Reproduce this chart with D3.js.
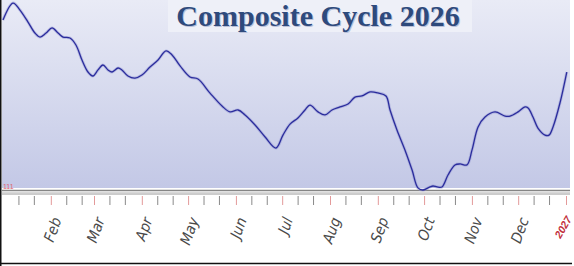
<!DOCTYPE html>
<html>
<head>
<meta charset="utf-8">
<script src="https://cdn.jsdelivr.net/npm/d3@7"></script>
<style>
  body { margin: 0; background: #fff; }
  svg { display: block; }
</style>
</head>
<body>
<div id="chart"></div>
<script>
// chart size
var svgWidth = 574;
var svgHeight = 266;

// curve points: day of year (0 = Jan 1 2026) and cycle value (0-100)
var days = [0, 6.5, 11, 16.2, 20.7, 24, 27.9, 31.8, 35.7, 38.9, 43.4, 47.3, 51.2, 55.1, 58.3,
  61.6, 64.8, 68.1, 70.7, 74.6, 77.1, 81, 85.6, 90.1, 95.3, 100.5, 105.7, 109.6, 114.8,
  121.2, 126.4, 134.2, 142, 147.2, 152.4, 156.9, 163.4, 169.9, 177, 181.5, 186.1, 191.2,
  195.8, 199, 204.2, 208.8, 213.3, 218.5, 223.7, 228.2, 232.7, 237.9, 243.1, 248.3, 250.9,
  255.4, 260.6, 265.2, 269, 272.3, 276.8, 278.8, 281.4, 284.6, 288.5, 293, 296.3, 300.8,
  304.1, 308, 312.5, 319, 325.5, 328.7, 333.9, 338.4, 340.4, 343.6, 346.8, 351.4, 354,
  356.6, 361.1, 365.5];
var values = [89.5, 98.4, 94.7, 88.4, 82.6, 80.5, 82.6, 85.3, 82.6, 80.5, 80, 76.3, 68.4, 62.1, 60,
  63.2, 65.8, 63.2, 62.1, 64.2, 63.2, 60, 58.9, 60.5, 64.7, 68.4, 73.2, 71.1, 65.3,
  59.5, 58.4, 51, 44.2, 41.1, 42.1, 39.5, 34.2, 27.9, 22.1, 28.9, 34.7, 37.9,
  42.1, 44.7, 41.1, 39.5, 42.1, 43.7, 45.3, 48.9, 49.5, 51.6, 51.1, 49.5, 42.1,
  31.6, 21.1, 10.5, 1.1, 0, 1.6, 2.1, 1.6, 1.6, 7.9, 13.2, 13.7, 13.2,
  21.1, 33.2, 38.4, 41.1, 38.9, 38.9, 41.1, 43.7, 43.2, 38.4, 32.6, 28.9, 28.9,
  33.2, 45.8, 62.1];

// axis labels
var monthLabels = ["Feb", "Mar", "Apr", "May", "Jun", "Jul", "Aug", "Sep", "Oct", "Nov", "Dec"];
var yearLabel = "2027";
var title = "Composite Cycle 2026";

var start = new Date(2026, 0, 1);
var end = new Date(2027, 0, 1);
var data = days.map((d, i) => ({date: d3.timeHour.offset(start, Math.round(d * 24)), value: values[i]}));

var svg = d3.select("#chart")
    .append("svg")
    .attr("width", svgWidth)
    .attr("height", svgHeight);

var x = d3.scaleTime().domain([start, end]).range([3, 566]);
var y = d3.scaleLinear().domain([0, 100]).range([190, 0]);

// background gradient
var defs = svg.append("defs");
var grad = defs.append("linearGradient")
    .attr("id", "bg").attr("x1", 0).attr("y1", 0).attr("x2", 0).attr("y2", 1);
grad.append("stop").attr("offset", "0%").attr("stop-color", "#e9ebf6");
grad.append("stop").attr("offset", "100%").attr("stop-color", "#c3c8e6");

svg.append("rect")
    .attr("x", 2).attr("y", 0)
    .attr("width", 568).attr("height", 188)
    .attr("fill", "url(#bg)");

// axis double line
svg.append("line").attr("x1", 2).attr("x2", 570).attr("y1", 190.5).attr("y2", 190.5)
    .attr("stroke", "#858585").attr("stroke-width", 1.5);
svg.append("line").attr("x1", 2).attr("x2", 570).attr("y1", 192.5).attr("y2", 192.5)
    .attr("stroke", "#d8d8d8").attr("stroke-width", 1);
svg.append("line").attr("x1", 2).attr("x2", 570).attr("y1", 194).attr("y2", 194)
    .attr("stroke", "#9a9a9a").attr("stroke-width", 1);

// ticks: month starts in red, 11th and 21st in grey
var monthStarts = d3.timeMonth.range(d3.timeMonth.offset(start, 1), d3.timeDay.offset(end, 1));
var minorTicks = [];
d3.timeMonth.range(start, end).forEach(m => {
    minorTicks.push(new Date(m.getFullYear(), m.getMonth(), 11));
    minorTicks.push(new Date(m.getFullYear(), m.getMonth(), 21));
});

var minorAxis = svg.append("g")
    .attr("transform", "translate(0, 196)")
    .call(d3.axisBottom(x).tickValues(minorTicks).tickSize(9).tickFormat(""));
minorAxis.select(".domain").remove();
minorAxis.selectAll(".tick line").attr("stroke", "#8a8a8a");

var majorAxis = svg.append("g")
    .attr("transform", "translate(0, 196)")
    .call(d3.axisBottom(x).tickValues(monthStarts).tickSize(9).tickFormat(""));
majorAxis.select(".domain").remove();
majorAxis.selectAll(".tick line").attr("stroke", "#e39a9a");

// rotated month labels
svg.append("g").selectAll("text")
    .data(monthStarts.slice(0, monthLabels.length))
    .join("text")
    .attr("transform", d => `translate(${x(d) + 6}, 218) rotate(-70)`)
    .attr("text-anchor", "end")
    .attr("dy", "0.35em")
    .attr("font-family", "Liberation Sans Narrow, DejaVu Sans Condensed, Arial, sans-serif")
    .attr("font-style", "italic")
    .attr("font-size", 15)
    .attr("fill", "#4a4a4a")
    .text((d, i) => monthLabels[i]);

svg.append("text")
    .attr("transform", `translate(${x(end) + 3}, 217) rotate(-60)`)
    .attr("text-anchor", "end")
    .attr("dy", "0.35em")
    .attr("font-family", "Liberation Sans, Arial, sans-serif")
    .attr("font-style", "italic")
    .attr("font-weight", "bold")
    .attr("font-size", 10.5)
    .attr("fill", "#c2303c")
    .text(yearLabel);

// tiny red marker at lower left
svg.append("text")
    .attr("x", 3).attr("y", 189)
    .attr("font-family", "Liberation Sans, Arial, sans-serif")
    .attr("font-size", 7)
    .attr("fill", "#e06070")
    .text("111");

// cycle line
var line = d3.line()
    .x(d => x(d.date))
    .y(d => y(d.value))
    .curve(d3.curveCatmullRom);

svg.append("path")
    .datum(data)
    .attr("fill", "none")
    .attr("stroke", "#8c8fd0")
    .attr("stroke-opacity", 0.45)
    .attr("stroke-width", 3)
    .attr("d", line);

svg.append("path")
    .datum(data)
    .attr("fill", "none")
    .attr("stroke", "#2a2c9c")
    .attr("stroke-width", 1.3)
    .attr("d", line);

// title box
svg.append("rect")
    .attr("x", 168).attr("y", 0)
    .attr("width", 304).attr("height", 32)
    .attr("fill", "#eef0f8");

svg.append("text")
    .attr("x", 318).attr("y", 26)
    .attr("text-anchor", "middle")
    .attr("font-family", "Liberation Serif, Times New Roman, serif")
    .attr("font-weight", "bold")
    .attr("font-size", 30)
    .attr("fill", "#b8c0d8")
    .attr("dx", 1).attr("dy", 1)
    .text(title);

svg.append("text")
    .attr("x", 318).attr("y", 26)
    .attr("text-anchor", "middle")
    .attr("font-family", "Liberation Serif, Times New Roman, serif")
    .attr("font-weight", "bold")
    .attr("font-size", 30)
    .attr("fill", "#2e4a7c")
    .text(title);

// frame
svg.append("line").attr("x1", 0.75).attr("x2", 0.75).attr("y1", 0).attr("y2", 266)
    .attr("stroke", "#111").attr("stroke-width", 1.5);
svg.append("line").attr("x1", 0).attr("x2", 572).attr("y1", 263.5).attr("y2", 263.5)
    .attr("stroke", "#111").attr("stroke-width", 1.5);
</script>
</body>
</html>
